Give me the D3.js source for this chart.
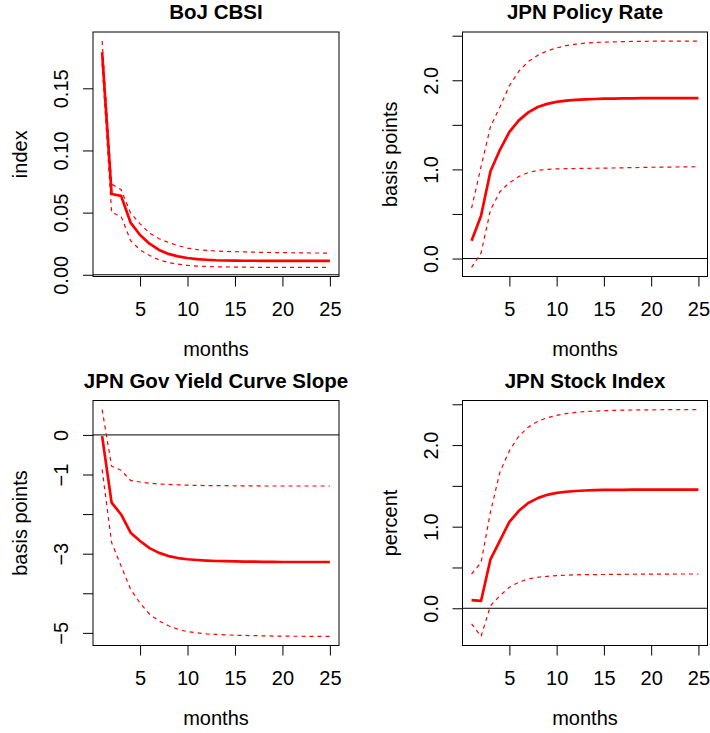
<!DOCTYPE html>
<html>
<head>
<meta charset="utf-8">
<script src="https://cdn.jsdelivr.net/npm/d3@7"></script>
<style>
  body { margin: 0; background: #fff; }
  text { font-family: "Liberation Sans", Arial, Helvetica, sans-serif; }
</style>
</head>
<body>
<div id="my_dataviz"></div>
<script>
// months on the x axis
var months = [1,2,3,4,5,6,7,8,9,10,11,12,13,14,15,16,17,18,19,20,21,22,23,24,25];
var monthTicks = [5, 10, 15, 20, 25];

// BoJ CBSI
var cbsiMid   = [0.179,0.065,0.0635,0.042,0.032,0.025,0.020,0.0168,0.0148,0.0135,0.0126,0.0121,0.0117,0.0115,0.0114,0.0113,0.0113,0.0112,0.0112,0.0112,0.0112,0.0112,0.0112,0.0112,0.0112];
var cbsiUpper = [0.188,0.073,0.0685,0.0497,0.041,0.0334,0.029,0.026,0.0235,0.0214,0.0203,0.0196,0.0191,0.0188,0.0186,0.0184,0.0182,0.0180,0.0179,0.0178,0.0177,0.0176,0.0175,0.0175,0.0174];
var cbsiLower = [0.170,0.050,0.047,0.0275,0.020,0.0155,0.012,0.0098,0.0085,0.0076,0.0070,0.0067,0.0064,0.0063,0.0062,0.0061,0.0060,0.0060,0.0060,0.0059,0.0059,0.0059,0.0059,0.0059,0.0059];

// JPN policy rate
var rateMid   = [0.20,0.48,0.98,1.22,1.42,1.55,1.64,1.70,1.735,1.757,1.771,1.780,1.786,1.790,1.793,1.795,1.797,1.798,1.799,1.80,1.80,1.80,1.80,1.80,1.80];
var rateUpper = [0.565,1.03,1.48,1.70,1.94,2.10,2.21,2.28,2.33,2.363,2.388,2.405,2.416,2.423,2.428,2.431,2.434,2.436,2.437,2.438,2.439,2.44,2.44,2.44,2.44];
var rateLower = [-0.10,0.06,0.545,0.75,0.85,0.92,0.965,0.99,1.0,1.005,1.008,1.01,1.012,1.013,1.014,1.016,1.018,1.02,1.022,1.024,1.025,1.026,1.028,1.029,1.03];

// JPN gov yield curve slope
var slopeMid   = [-0.03,-1.71,-2.01,-2.47,-2.68,-2.86,-2.98,-3.06,-3.11,-3.14,-3.16,-3.175,-3.185,-3.19,-3.195,-3.20,-3.20,-3.205,-3.205,-3.21,-3.21,-3.21,-3.21,-3.21,-3.21];
var slopeUpper = [0.64,-0.79,-0.89,-1.15,-1.19,-1.22,-1.24,-1.25,-1.26,-1.27,-1.275,-1.28,-1.28,-1.28,-1.285,-1.285,-1.285,-1.29,-1.29,-1.29,-1.29,-1.29,-1.29,-1.29,-1.29];
var slopeLower = [-0.87,-2.72,-3.31,-3.90,-4.25,-4.53,-4.70,-4.82,-4.91,-4.97,-5.00,-5.025,-5.04,-5.05,-5.06,-5.065,-5.07,-5.075,-5.08,-5.08,-5.085,-5.085,-5.09,-5.09,-5.09];

// JPN stock index
var stockMid   = [0.10,0.09,0.60,0.83,1.06,1.195,1.29,1.35,1.39,1.414,1.428,1.437,1.443,1.447,1.450,1.451,1.452,1.453,1.454,1.454,1.455,1.455,1.455,1.455,1.455];
var stockUpper = [0.42,0.56,1.18,1.67,1.93,2.11,2.22,2.29,2.335,2.365,2.385,2.40,2.41,2.416,2.421,2.425,2.428,2.43,2.431,2.432,2.433,2.434,2.435,2.435,2.435];
var stockLower = [-0.19,-0.345,0.03,0.155,0.257,0.32,0.36,0.38,0.392,0.40,0.405,0.41,0.412,0.413,0.414,0.415,0.416,0.417,0.418,0.418,0.419,0.419,0.42,0.42,0.42];

// titles, y labels and ticks (label "" = tick without label)
var titles  = ["BoJ CBSI", "JPN Policy Rate", "JPN Gov Yield Curve Slope", "JPN Stock Index"];
var yLabels = ["index", "basis points", "basis points", "percent"];
var yTicks = [
  [0, 0.05, 0.10, 0.15],
  [0, 0.5, 1, 1.5, 2, 2.5],
  [0, -1, -2, -3, -4, -5],
  [0, 0.5, 1, 1.5, 2, 2.5]
];
var yTickLabels = [
  ["0.00", "0.05", "0.10", "0.15"],
  ["0.0", "", "1.0", "", "2.0", ""],
  ["0", "\u22121", "", "\u22123", "", "\u22125"],
  ["0.0", "", "1.0", "", "2.0", ""]
];

var series = [
  {mid: cbsiMid,  upper: cbsiUpper,  lower: cbsiLower},
  {mid: rateMid,  upper: rateUpper,  lower: rateLower},
  {mid: slopeMid, upper: slopeUpper, lower: slopeLower},
  {mid: stockMid, upper: stockUpper, lower: stockLower}
];

// plot boxes of the 2x2 layout
var boxes = [
  {left: 93,    right: 339,   top: 32,    bottom: 276.5},
  {left: 462.5, right: 707.5, top: 32,    bottom: 276.5},
  {left: 93,    right: 339,   top: 400.5, bottom: 645.5},
  {left: 462.5, right: 707.5, top: 400.5, bottom: 645.5}
];

var svg = d3.select("#my_dataviz")
  .append("svg")
    .attr("width", 710)
    .attr("height", 733);

// R style 4% padding around the data range
function padded(lo, hi) {
  var d = (hi - lo) * 0.04;
  return [lo - d, hi + d];
}

series.forEach(function(s, i) {
  var b = boxes[i];
  var g = svg.append("g");

  var x = d3.scaleLinear()
    .domain(padded(d3.min(months), d3.max(months)))
    .range([b.left, b.right]);
  var y = d3.scaleLinear()
    .domain(padded(d3.min(s.lower.concat(s.mid)), d3.max(s.upper.concat(s.mid))))
    .range([b.bottom, b.top]);

  var clipId = "clip" + i;
  g.append("clipPath").attr("id", clipId)
    .append("rect")
      .attr("x", b.left).attr("y", b.top)
      .attr("width", b.right - b.left).attr("height", b.bottom - b.top);

  var plot = g.append("g").attr("clip-path", "url(#" + clipId + ")");

  // zero line
  plot.append("line")
    .attr("x1", b.left).attr("x2", b.right)
    .attr("y1", y(0)).attr("y2", y(0))
    .attr("stroke", "#000")
    .attr("stroke-width", 1);

  var line = d3.line()
    .x(function(d, j) { return x(months[j]); })
    .y(function(d) { return y(d); });

  // bands
  [s.upper, s.lower].forEach(function(band) {
    plot.append("path")
      .datum(band)
      .attr("d", line)
      .attr("fill", "none")
      .attr("stroke", "#ff0000")
      .attr("stroke-width", 1.2)
      .attr("stroke-dasharray", "4,4");
  });

  // response
  plot.append("path")
    .datum(s.mid)
    .attr("d", line)
    .attr("fill", "none")
    .attr("stroke", "#ff0000")
    .attr("stroke-width", 2.7)
    .attr("stroke-linejoin", "round");

  // box
  g.append("rect")
    .attr("x", b.left).attr("y", b.top)
    .attr("width", b.right - b.left).attr("height", b.bottom - b.top)
    .attr("fill", "none")
    .attr("stroke", "#000")
    .attr("stroke-width", 1);

  // x axis
  var xa = g.append("g")
    .attr("transform", "translate(0," + b.bottom + ")")
    .call(d3.axisBottom(x).tickValues(monthTicks).tickSize(10).tickFormat(d3.format("d")));
  xa.select(".domain").remove();
  xa.selectAll("text")
    .attr("y", 39).attr("dy", null)
    .attr("fill", "#000")
    .style("font-size", "20px");

  // y axis
  var ya = g.append("g")
    .attr("transform", "translate(" + b.left + ",0)")
    .call(d3.axisLeft(y).tickValues(yTicks[i]).tickSize(10)
      .tickFormat(function(d, j) { return yTickLabels[i][j]; }));
  ya.select(".domain").remove();
  ya.selectAll("text")
    .attr("x", 0).attr("y", -25).attr("dy", null)
    .attr("transform", "rotate(-90)")
    .attr("text-anchor", "middle")
    .attr("fill", "#000")
    .style("font-size", "20px");

  // title
  g.append("text")
    .attr("x", (b.left + b.right) / 2)
    .attr("y", b.top - 13)
    .attr("text-anchor", "middle")
    .style("font-size", "20.5px")
    .style("font-weight", "bold")
    .text(titles[i]);

  // x label
  g.append("text")
    .attr("x", (b.left + b.right) / 2)
    .attr("y", b.bottom + 79)
    .attr("text-anchor", "middle")
    .style("font-size", "20px")
    .text("months");

  // y label
  g.append("text")
    .attr("transform", "translate(" + (b.left - 66) + "," + ((b.top + b.bottom) / 2) + ") rotate(-90)")
    .attr("text-anchor", "middle")
    .style("font-size", "20px")
    .text(yLabels[i]);
});
</script>
</body>
</html>
